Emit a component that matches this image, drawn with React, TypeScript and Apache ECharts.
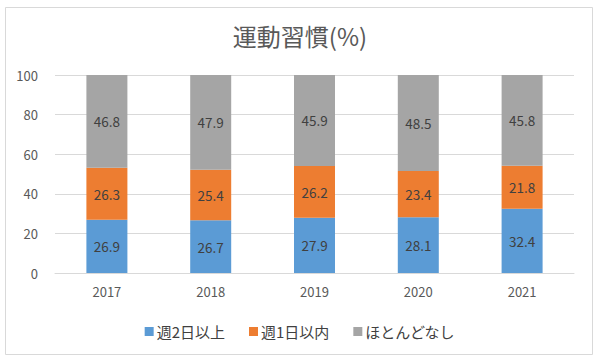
import React, { useEffect, useRef } from "react";
import * as echarts from "echarts";

const years = ["2017", "2018", "2019", "2020", "2021"];
const twoDaysPlus = [26.9, 26.7, 27.9, 28.1, 32.4];
const oneDayOrLess = [26.3, 25.4, 26.2, 23.4, 21.8];
const almostNone = [46.8, 47.9, 45.9, 48.5, 45.8];
const seriesNames = ["週2日以上", "週1日以内", "ほとんどなし"];
const colors = ["#5B9BD5", "#ED7D31", "#A5A5A5"];

const FONT = "'Noto Sans CJK JP', 'Noto Sans', sans-serif";

export default function App() {
  const ref = useRef<HTMLDivElement>(null);
  useEffect(() => {
    document.body.style.margin = "0";
    const chart = echarts.init(ref.current!, undefined, { renderer: "svg" });
    const data = [twoDaysPlus, oneDayOrLess, almostNone];
    chart.setOption({
      animation: false,
      color: colors,
      textStyle: { fontFamily: FONT },
      title: {
        text: "運動習慣(%)",
        left: "center",
        top: 18,
        textStyle: { fontSize: 24, fontWeight: "normal", color: "#595959", fontFamily: FONT },
      },
      graphic: [
        {
          type: "rect",
          shape: { x: 5.5, y: 7.5, width: 587, height: 347 },
          style: { fill: "none", stroke: "#D9D9D9", lineWidth: 1 },
          silent: true,
        },
      ],
      legend: {
        top: 319,
        left: "center",
        itemWidth: 9,
        itemHeight: 9,
        itemGap: 24,
        icon: "rect",
        textStyle: { fontSize: 15, color: "#404040", fontFamily: FONT, padding: [0, 0, 0, -2] },
        data: seriesNames,
      },
      grid: { left: 55, right: 26, top: 75, bottom: 90 },
      xAxis: {
        type: "category",
        data: years,
        axisTick: { show: false },
        axisLine: { lineStyle: { color: "#D9D9D9" } },
        axisLabel: { color: "#595959", fontSize: 13, margin: 12 },
      },
      yAxis: {
        type: "value",
        min: 0,
        max: 100,
        interval: 20,
        axisLabel: { color: "#595959", fontSize: 13, margin: 17 },
        splitLine: { lineStyle: { color: "#D9D9D9" } },
      },
      series: seriesNames.map((name, i) => ({
        name,
        type: "bar",
        stack: "total",
        barWidth: 41,
        data: data[i],
        itemStyle: { color: colors[i] },
        label: {
          show: true,
          position: "inside",
          color: "#404040",
          fontSize: 13.5,
          formatter: (p: any) => p.value.toFixed(1),
        },
      })),
    });
    return () => chart.dispose();
  }, []);
  return <div ref={ref} style={{ width: 600, height: 363 }} />;
}
